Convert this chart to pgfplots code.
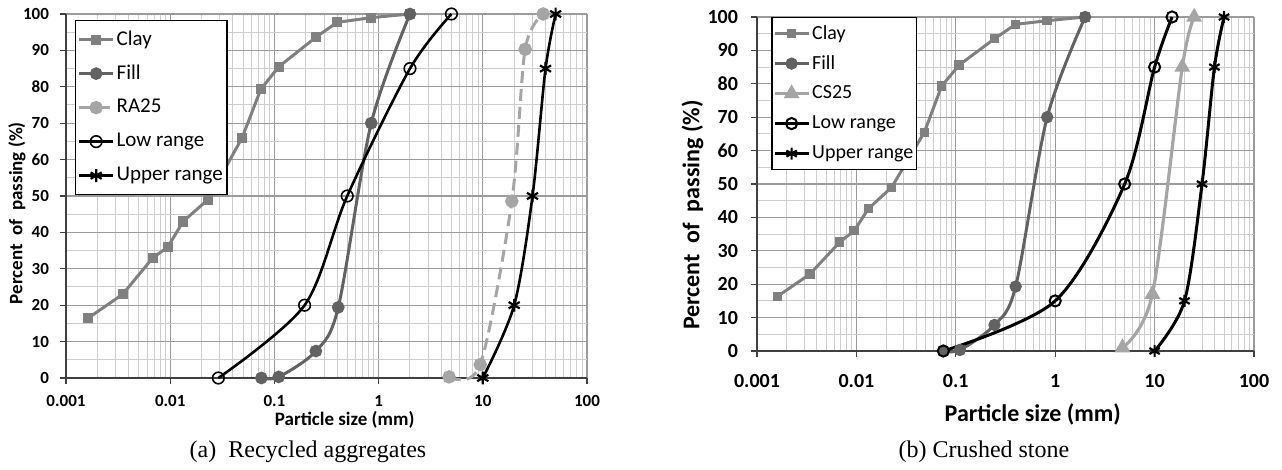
\documentclass[border=0pt]{standalone}
\usepackage{fontspec}
\setmainfont{Carlito}
\newfontfamily\capfont{Liberation Serif}
\usepackage{pgfplots}
\pgfplotsset{compat=1.18}

\definecolor{claycol}{RGB}{128,128,128}
\definecolor{fillcol}{RGB}{98,98,98}
\definecolor{racol}{RGB}{165,165,165}
\definecolor{gridmaj}{RGB}{155,155,155}
\definecolor{gridmin}{RGB}{205,205,205}

\pgfplotsset{
  every axis/.append style={
    scale only axis,
    xmin=0.001, xmax=100, ymin=0, ymax=100,
    xtick={0.001,0.01,0.1,1,10,100},
    xticklabels={0.001,0.01,0.1,1,10,100},
    minor xtick={0.002,0.003,0.004,0.005,0.006,0.007,0.008,0.009,
                 0.02,0.03,0.04,0.05,0.06,0.07,0.08,0.09,
                 0.2,0.3,0.4,0.5,0.6,0.7,0.8,0.9,
                 2,3,4,5,6,7,8,9,20,30,40,50,60,70,80,90},
    ytick={0,10,...,100}, minor ytick={5,15,...,95},
    grid=both,
    major grid style={gridmaj, line width=0.6pt},
    minor grid style={gridmin, line width=0.5pt},
    axis x line*=bottom, axis y line*=left,
    axis line style={black!75, line width=0.8pt, -},
    tick align=outside, major tick length=3pt, minor tick length=0pt,
    major tick style={black!75, line width=0.6pt},
    clip=false,
    legend cell align=left,
  },
  legend image code/.code={
    \draw[mark repeat=2,mark phase=2,#1]
      plot coordinates {(0pt,0pt) (8.5pt,0pt) (17pt,0pt)};},
}

\begin{document}
\begin{tikzpicture}
\useasboundingbox (0pt,0pt) rectangle (641pt,-235pt);

% (a) recycled aggregates
\begin{semilogxaxis}[
  /pgf/number format/assume math mode=true,
  at={(33pt,-189pt)}, anchor=south west,
  width=260.5pt, height=182pt,
  ticklabel style={font=\fontsize{8.5}{10}\selectfont\bfseries},
  xticklabel style={yshift=-2pt},
  yticklabel style={xshift=-2pt},
  xlabel={Particle size (mm)},
  ylabel={Percent\ \ of\ \ passing (\%)},
  label style={font=\fontsize{9.5}{11}\selectfont\bfseries},
  xlabel style={at={(axis description cs:0.535,-0.115)}, anchor=center},
  ylabel style={at={(axis description cs:-0.094,0.453)}, anchor=center},
  legend style={at={(axis description cs:0.017,0.984)}, anchor=north west,
    draw=black, line width=0.8pt, fill=white, inner sep=1pt,
    font=\fontsize{10.5}{12}\selectfont,
    nodes={inner xsep=1pt, inner ysep=0pt, minimum height=17pt}},
]
\addplot[claycol, line width=1.5pt, mark=square*, mark size=1.8pt]
  coordinates {(0.00164,16.5) (0.0035,23) (0.0068,33) (0.0095,36)
    (0.0133,43) (0.023,49) (0.049,66) (0.074,79.3) (0.11,85.5)
    (0.25,93.6) (0.40,97.7) (0.85,99) (2,100)};
\addlegendentry{Clay}
\addplot[fillcol, line width=1.5pt, smooth, mark=*, mark size=2.4pt]
  coordinates {(0.075,0) (0.11,0.3) (0.25,7.4) (0.41,19.4) (0.85,70) (2,100)};
\addlegendentry{Fill}
\addplot[racol, line width=1.5pt, smooth, dash pattern=on 6pt off 3pt,
    mark=*, mark size=2.6pt, mark options={solid}]
  coordinates {(4.75,0.3) (9.45,3.7) (19,48.6) (25.5,90.3) (38,100)};
\addlegendentry{RA25}
\addplot[black, line width=1.3pt, smooth, mark=o, mark size=2.9pt,
    mark options={fill=white, line width=0.8pt}]
  coordinates {(0.029,0) (0.195,20) (0.5,50) (2,85) (5,100)};
\addlegendentry{Low range}
\addplot[black, line width=1.3pt, smooth, mark=asterisk, mark size=3.2pt,
    mark options={line width=1.1pt}]
  coordinates {(10,0) (20,20) (30,50) (40,85) (50,100)};
\addlegendentry{Upper range}
\end{semilogxaxis}

% (b) crushed stone
\begin{semilogxaxis}[
  /pgf/number format/assume math mode=true,
  at={(378.5pt,-175.5pt)}, anchor=south west,
  width=248.5pt, height=167pt,
  ticklabel style={font=\fontsize{10}{12}\selectfont\bfseries},
  xticklabel style={yshift=-5pt},
  yticklabel style={xshift=-3pt},
  xlabel={Particle size (mm)},
  ylabel={Percent\ \ of\ \ passing (\%)},
  label style={font=\fontsize{12}{14}\selectfont\bfseries},
  xlabel style={at={(axis description cs:0.555,-0.19)}, anchor=center},
  ylabel style={at={(axis description cs:-0.13,0.407)}, anchor=center},
  legend style={at={(axis description cs:0.029,1)}, anchor=north west,
    draw=black, line width=0.6pt, fill=white, inner sep=0.5pt,
    font=\fontsize{10}{11.5}\selectfont,
    nodes={inner xsep=1pt, inner ysep=0pt, minimum height=15pt}},
]
\addplot[claycol, line width=1.5pt, mark=square*, mark size=1.6pt]
  coordinates {(0.0016,16.3) (0.0034,23) (0.0068,32.6) (0.0095,36)
    (0.0132,42.6) (0.0226,49) (0.0483,65.5) (0.072,79.3) (0.108,85.6)
    (0.245,93.5) (0.40,97.8) (0.83,98.9) (2,100)};
\addlegendentry{Clay}
\addplot[fillcol, line width=1.5pt, smooth, mark=*, mark size=2.3pt]
  coordinates {(0.075,0) (0.11,0.3) (0.245,7.8) (0.40,19.3) (0.83,70) (2,100)};
\addlegendentry{Fill}
\addplot[racol, line width=1.6pt, smooth, mark=triangle*, mark size=3pt]
  coordinates {(4.75,1) (9.5,17) (19,85) (25,100)};
\addlegendentry{CS25}
\addplot[black, line width=1.5pt, smooth, mark=o, mark size=2.8pt,
    mark options={fill=white, line width=1pt}]
  coordinates {(0.075,0) (1,15) (5,50) (10,85) (15,100)};
\addlegendentry{Low range}
\addplot[black, line width=1.5pt, smooth, mark=asterisk, mark size=3pt,
    mark options={line width=1.1pt}]
  coordinates {(10,0) (20,15) (30,50) (40,85) (50,100)};
\addlegendentry{Upper range}
\end{semilogxaxis}

\node[font=\capfont\fontsize{12}{14}\selectfont] at (154pt,-226pt)
  {(a)\ \ Recycled aggregates};
\node[font=\capfont\fontsize{12}{14}\selectfont] at (492pt,-226pt)
  {(b) Crushed stone};
\end{tikzpicture}
\end{document}
